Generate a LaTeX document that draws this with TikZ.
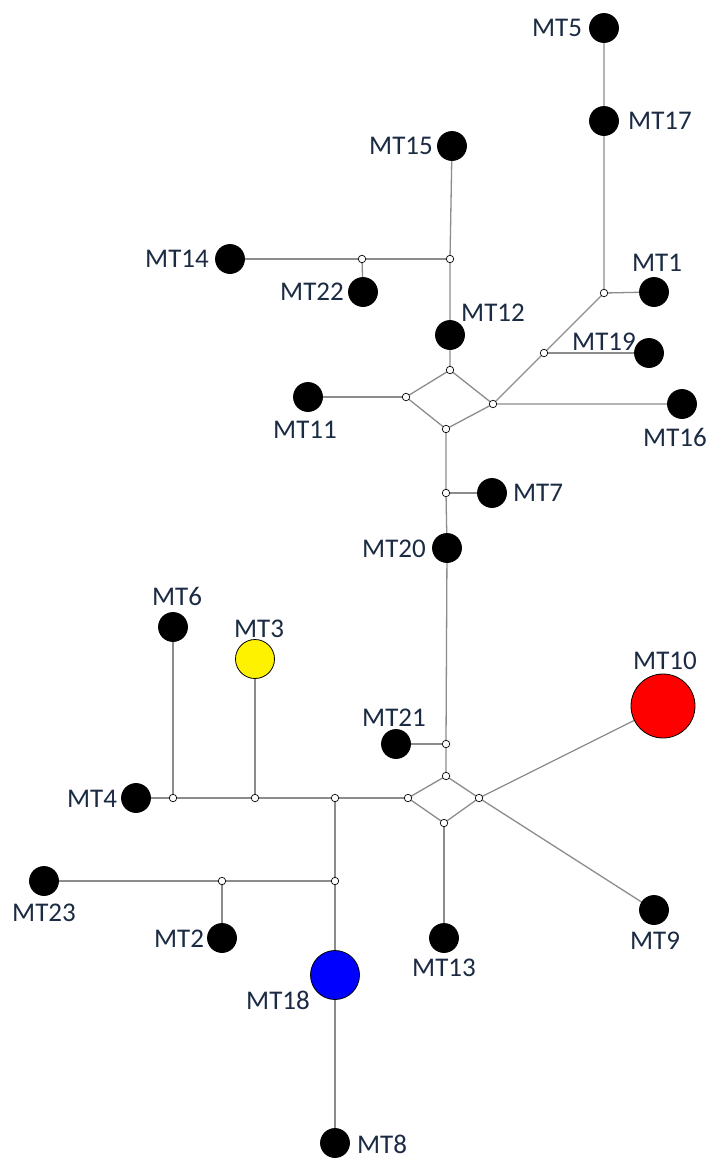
\documentclass[tikz,border=0pt]{standalone}
\usepackage{fontspec}
\setmainfont{Carlito}
\usetikzlibrary{backgrounds}
\definecolor{txt}{HTML}{1C2B44}
\definecolor{edge}{HTML}{8C8C8C}
\tikzset{
  hap/.style={circle,draw=black,line width=0.8pt,fill=black,inner sep=0pt,minimum size=29pt},
  med/.style={circle,draw=black,line width=0.7pt,fill=white,inner sep=0pt,minimum size=7.5pt},
  lab/.style={text=txt,font=\fontsize{27}{30}\selectfont,inner sep=0pt},
  conn/.style={draw=edge,line width=1.3pt}
}
\begin{document}
\begin{tikzpicture}[x=1pt,y=-1pt]
\useasboundingbox (0,0) rectangle (709,1159);
% haplotypes
\node[hap] (MT5) at (604,28) {};
\node[hap] (MT17) at (604,121) {};
\node[hap] (MT1) at (654,292) {};
\node[hap] (MT15) at (452,146) {};
\node[hap] (MT14) at (230,259) {};
\node[hap] (MT22) at (363,292) {};
\node[hap] (MT12) at (450,335) {};
\node[hap] (MT19) at (649,353) {};
\node[hap] (MT16) at (682,404) {};
\node[hap] (MT11) at (308,397) {};
\node[hap] (MT7) at (492,493) {};
\node[hap] (MT20) at (447,548) {};
\node[hap] (MT6) at (173,627) {};
\node[hap,fill=yellow,minimum size=39pt] (MT3) at (255,659) {};
\node[hap] (MT21) at (396,744) {};
\node[hap,fill=red,minimum size=64pt] (MT10) at (663,706) {};
\node[hap] (MT4) at (136,798) {};
\node[hap] (MT23) at (44,881) {};
\node[hap] (MT2) at (222,938) {};
\node[hap,fill=blue,minimum size=49pt] (MT18) at (335,975) {};
\node[hap] (MT13) at (444,938) {};
\node[hap] (MT9) at (654,910) {};
\node[hap] (MT8) at (335,1143) {};
% median vectors
\node[med] (m1) at (604,293) {};
\node[med] (m2) at (362,259) {};
\node[med] (m3) at (450,259) {};
\node[med] (m4) at (544,353) {};
\node[med] (dT) at (450,370) {};
\node[med] (dL) at (406,397) {};
\node[med] (dR) at (493,404) {};
\node[med] (dB) at (446,429) {};
\node[med] (m5) at (446,493) {};
\node[med] (m6) at (446,744) {};
\node[med] (eT) at (446,776) {};
\node[med] (eL) at (408,798) {};
\node[med] (eR) at (479,798) {};
\node[med] (eB) at (444,823) {};
\node[med] (m7) at (173,798) {};
\node[med] (m8) at (255,798) {};
\node[med] (m9) at (335,798) {};
\node[med] (m10) at (335,881) {};
\node[med] (m11) at (222,881) {};
% labels
\node[lab] (l5) at (557,28) {MT5};
\node[lab] (l17) at (660,121) {MT17};
\node[lab] (l1) at (657,263) {MT1};
\node[lab] (l15) at (401,146) {MT15};
\node[lab] (l14) at (177,259) {MT14};
\node[lab] (l22) at (312,292) {MT22};
\node[lab] (l12) at (493,313) {MT12};
\node[lab] (l19) at (604,342) {MT19};
\node[lab] (l16) at (675,437) {MT16};
\node[lab] (l11) at (305,430) {MT11};
\node[lab] (l7) at (538,493) {MT7};
\node[lab] (l20) at (394,549) {MT20};
\node[lab] (l6) at (177,596) {MT6};
\node[lab] (l3) at (259,629) {MT3};
\node[lab] (l21) at (394,718) {MT21};
\node[lab] (l10) at (665,661) {MT10};
\node[lab] (l4) at (92,799) {MT4};
\node[lab] (l23) at (44,913) {MT23};
\node[lab] (l2) at (179,939) {MT2};
\node[lab] (l18) at (278,1000) {MT18};
\node[lab] (l13) at (444,968) {MT13};
\node[lab] (l9) at (655,941) {MT9};
\node[lab] (l8) at (382,1144) {MT8};
\begin{scope}[on background layer]
\fill[white] (0,0) rectangle (709,1159);
\draw[conn] (MT5.center) -- (MT17.center) -- (m1.center) -- (MT1.center);
\draw[conn] (m1.center) -- (m4.center) -- (dR.center) -- (MT16.center);
\draw[conn] (m4.center) -- (MT19.center);
\draw[conn] (MT15.center) -- (m3.center) -- (MT12.center) -- (dT.center);
\draw[conn] (MT14.center) -- (m2.center) -- (m3.center);
\draw[conn] (m2.center) -- (MT22.center);
\draw[conn] (dT.center) -- (dL.center) -- (dB.center) -- (dR.center) -- (dT.center);
\draw[conn] (dL.center) -- (MT11.center);
\draw[conn] (dB.center) -- (m5.center) -- (MT20.center) -- (m6.center) -- (eT.center);
\draw[conn] (m5.center) -- (MT7.center);
\draw[conn] (m6.center) -- (MT21.center);
\draw[conn] (eT.center) -- (eL.center) -- (eB.center) -- (eR.center) -- (eT.center);
\draw[conn] (eR.center) -- (MT10.center);
\draw[conn] (eR.center) -- (MT9.center);
\draw[conn] (eB.center) -- (MT13.center);
\draw[conn] (eL.center) -- (m9.center) -- (m8.center) -- (m7.center) -- (MT4.center);
\draw[conn] (m7.center) -- (MT6.center);
\draw[conn] (m8.center) -- (MT3.center);
\draw[conn] (m9.center) -- (m10.center) -- (m11.center) -- (MT23.center);
\draw[conn] (m11.center) -- (MT2.center);
\draw[conn] (m10.center) -- (MT18.center) -- (MT8.center);
\end{scope}
\end{tikzpicture}
\end{document}
